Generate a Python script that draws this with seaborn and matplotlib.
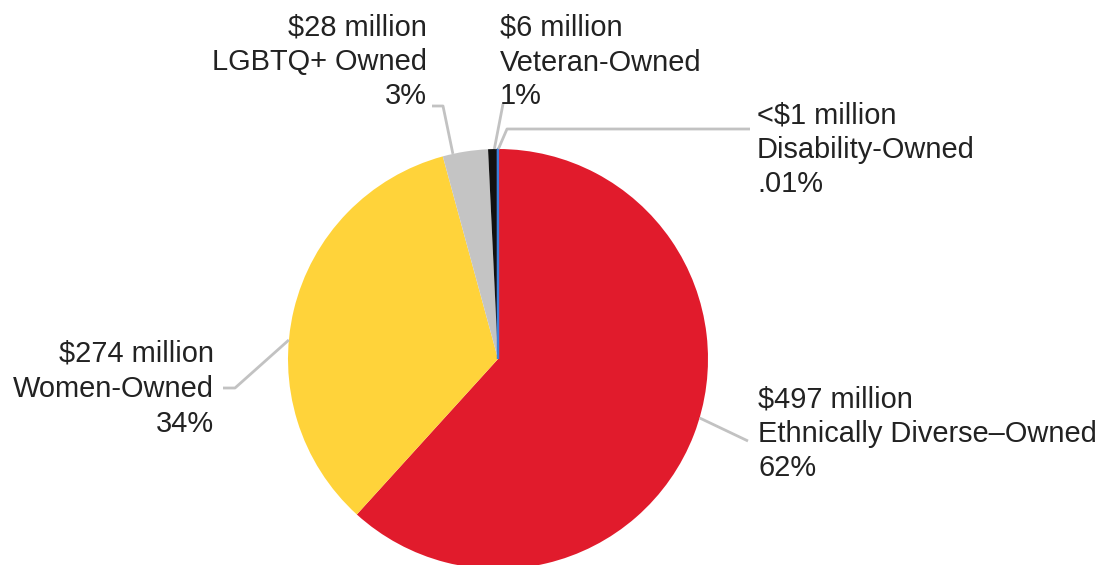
import numpy as np
import matplotlib
matplotlib.use("Agg")
import matplotlib.pyplot as plt
import seaborn as sns

# Supplier spend by ownership category (millions of USD)
categories = ["Ethnically Diverse–Owned", "Women-Owned", "LGBTQ+ Owned",
              "Veteran-Owned", "Disability-Owned"]
spend = [497, 274, 28, 6, 0.08]
amount_labels = ["$497 million", "$274 million", "$28 million",
                 "$6 million", "<$1 million"]
share_labels = ["62%", "34%", "3%", "1%", ".01%"]
colors = ["#E11B2C", "#FFD33A", "#C4C4C4", "#111111", "#3D7FD9"]

sns.set_theme(style="white")
plt.rcParams["font.family"] = ["Liberation Sans", "DejaVu Sans"]

W, H = 1101, 565
fig = plt.figure(figsize=(W / 100, H / 100), dpi=100)
ax = fig.add_axes([0, 0, 1, 1])


def py(y):
    """Convert a top-down pixel row into the axes' bottom-up coordinate."""
    return H - y


cx, cy, R = 498, py(359), 210
wedges, _ = ax.pie(spend, colors=colors, startangle=90, counterclock=False,
                   center=(cx, cy), radius=R,
                   wedgeprops=dict(linewidth=0))
# keep the hair-thin disability slice visible
wedges[-1].set_edgecolor(colors[-1])
wedges[-1].set_linewidth(1.6)

ax.set_xlim(0, W)
ax.set_ylim(0, H)
ax.set_aspect("auto")
ax.axis("off")

text_color = "#222222"
line_color = "#C2C2C2"
fs = 20.9

# label layout: anchor angle on the rim, leader path, text x, alignment, baselines
layout = [
    dict(angle=-16.3, path=[(748, 441)], x=758, ha="left", base=[407, 442, 476]),
    dict(angle=174.8, path=[(235, 388), (223, 388)], x=214, ha="right", base=[362, 397, 432]),
    dict(angle=102.4, path=[(443, 106), (432, 106)], x=427, ha="right", base=[36, 70, 104]),
    dict(angle=91.0, path=[(503, 104)], x=500, ha="left", base=[36, 71, 104]),
    dict(angle=89.9, path=[(507, 129), (750, 129)], x=757, ha="left", base=[123, 158, 192]),
]

for i, spec in enumerate(layout):
    a = np.deg2rad(spec["angle"])
    xs = [cx + R * np.cos(a)] + [p[0] for p in spec["path"]]
    ys = [cy + R * np.sin(a)] + [py(p[1]) for p in spec["path"]]
    ax.plot(xs, ys, color=line_color, lw=2, solid_capstyle="butt", zorder=1)
    lines = [amount_labels[i], categories[i], share_labels[i]]
    for txt, b in zip(lines, spec["base"]):
        ax.text(spec["x"], py(b), txt, ha=spec["ha"], va="baseline",
                fontsize=fs, color=text_color)

fig.savefig("out.png", dpi=100, facecolor="white")
